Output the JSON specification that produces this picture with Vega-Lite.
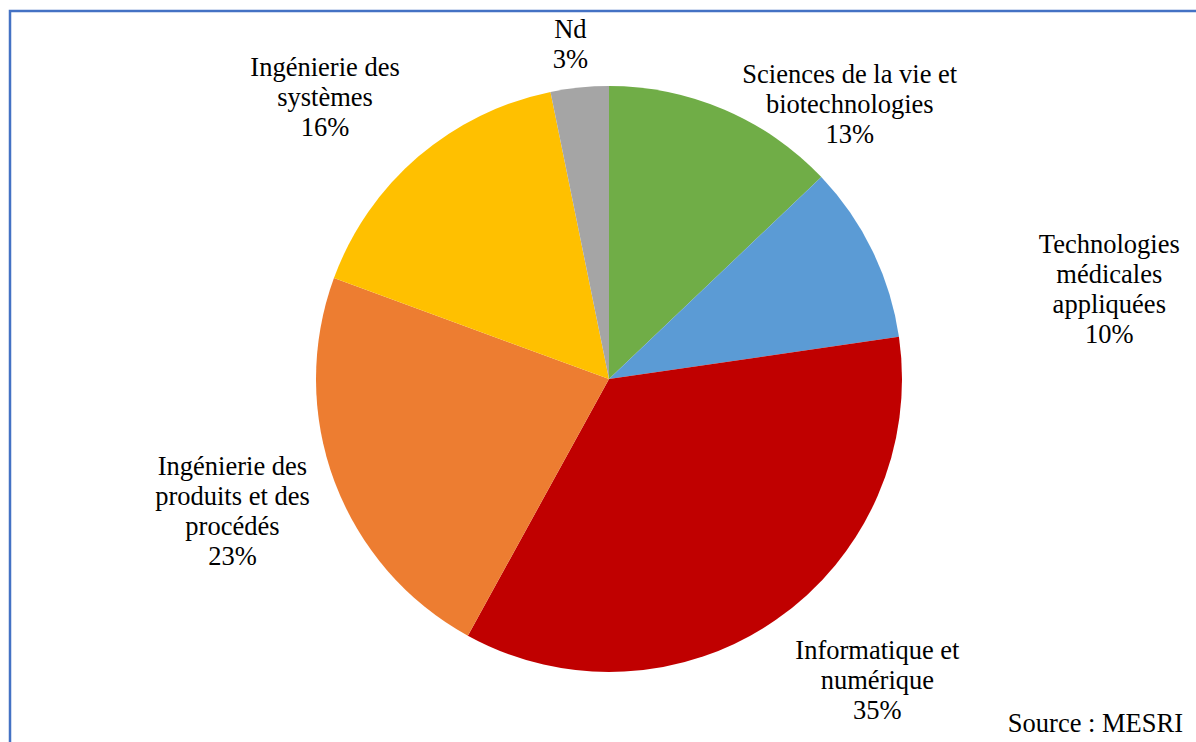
{
  "$schema": "https://vega.github.io/schema/vega-lite/v6.json",
  "width": 1198,
  "height": 736,
  "autosize": "none",
  "padding": {"left": 10, "top": 11, "right": 0, "bottom": 0},
  "background": "white",
  "view": {"stroke": "#4472C4", "strokeWidth": 2.5, "fill": "white"},
  "config": {
    "font": "Liberation Serif"
  },
  "title": {
    "text": "Source : MESRI",
    "orient": "bottom",
    "anchor": "end",
    "frame": "group",
    "baseline": "alphabetic",
    "offset": 0,
    "dx": -25,
    "dy": -27,
    "font": "Liberation Serif",
    "fontSize": 26.5,
    "fontWeight": "normal",
    "color": "#000000"
  },
  "data": {
    "values": [
      {"rank": 1, "cat": "Sciences de la vie et biotechnologies", "value": 12.9, "label": ["Sciences de la vie et", "biotechnologies", "13%"]},
      {"rank": 2, "cat": "Technologies médicales appliquées", "value": 9.8, "label": ["Technologies", "médicales", "appliquées", "10%"]},
      {"rank": 3, "cat": "Informatique et numérique", "value": 35.3, "label": ["Informatique et", "numérique", "35%"]},
      {"rank": 4, "cat": "Ingénierie des produits et des procédés", "value": 22.6, "label": ["Ingénierie des", "produits et des", "procédés", "23%"]},
      {"rank": 5, "cat": "Ingénierie des systèmes", "value": 16.2, "label": ["Ingénierie des", "systèmes", "16%"]},
      {"rank": 6, "cat": "Nd", "value": 3.2, "label": ["Nd", "3%"]}
    ]
  },
  "encoding": {
    "theta": {"field": "value", "type": "quantitative", "stack": true},
    "order": {"field": "rank", "type": "quantitative"}
  },
  "layer": [
    {
      "mark": {"type": "arc", "outerRadius": 293},
      "encoding": {
        "color": {
          "field": "cat",
          "type": "nominal",
          "scale": {
            "domain": ["Sciences de la vie et biotechnologies", "Technologies médicales appliquées", "Informatique et numérique", "Ingénierie des produits et des procédés", "Ingénierie des systèmes", "Nd"],
            "range": ["#70AD47", "#5B9BD5", "#C00000", "#ED7D31", "#FFC000", "#A5A5A5"]
          },
          "legend": null
        }
      }
    },
    {
      "mark": {"type": "text", "radius": 385, "dx": 89, "dy": 50, "fontSize": 26.5, "lineHeight": 30, "font": "Liberation Serif", "color": "#000000", "align": "center", "baseline": "middle"},
      "encoding": {"text": {"condition": {"test": "datum.rank == 1", "field": "label", "type": "nominal"}, "value": ""}}
    },
    {
      "mark": {"type": "text", "radius": 385, "dx": 154, "dy": 34, "fontSize": 26.5, "lineHeight": 30, "font": "Liberation Serif", "color": "#000000", "align": "center", "baseline": "middle"},
      "encoding": {"text": {"condition": {"test": "datum.rank == 2", "field": "label", "type": "nominal"}, "value": ""}}
    },
    {
      "mark": {"type": "text", "radius": 385, "dx": 49, "dy": -44, "fontSize": 26.5, "lineHeight": 30, "font": "Liberation Serif", "color": "#000000", "align": "center", "baseline": "middle"},
      "encoding": {"text": {"condition": {"test": "datum.rank == 3", "field": "label", "type": "nominal"}, "value": ""}}
    },
    {
      "mark": {"type": "text", "radius": 385, "dx": -16, "dy": -47, "fontSize": 26.5, "lineHeight": 30, "font": "Liberation Serif", "color": "#000000", "align": "center", "baseline": "middle"},
      "encoding": {"text": {"condition": {"test": "datum.rank == 4", "field": "label", "type": "nominal"}, "value": ""}}
    },
    {
      "mark": {"type": "text", "radius": 385, "dx": -33, "dy": -19, "fontSize": 26.5, "lineHeight": 30, "font": "Liberation Serif", "color": "#000000", "align": "center", "baseline": "middle"},
      "encoding": {"text": {"condition": {"test": "datum.rank == 5", "field": "label", "type": "nominal"}, "value": ""}}
    },
    {
      "mark": {"type": "text", "radius": 385, "dx": 0, "dy": 34, "fontSize": 26.5, "lineHeight": 30, "font": "Liberation Serif", "color": "#000000", "align": "center", "baseline": "middle"},
      "encoding": {"text": {"condition": {"test": "datum.rank == 6", "field": "label", "type": "nominal"}, "value": ""}}
    }
  ]
}
